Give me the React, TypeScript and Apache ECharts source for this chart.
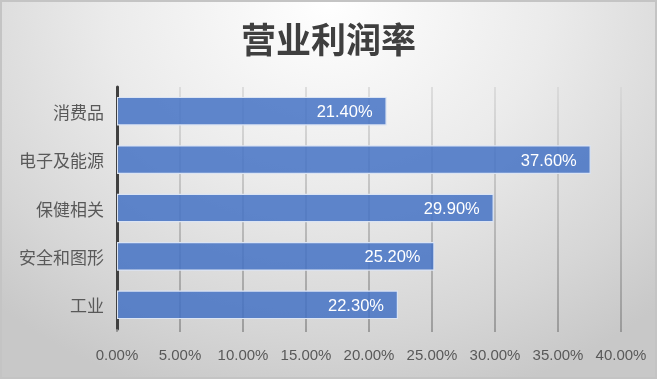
import React, { useEffect, useRef } from "react";
import * as echarts from "echarts";

const categories = ["消费品", "电子及能源", "保健相关", "安全和图形", "工业"];
const values = [21.4, 37.6, 29.9, 25.2, 22.3];
const titleText = "营业利润率";

export default function App() {
  const ref = useRef<HTMLDivElement>(null);
  useEffect(() => {
    if (!ref.current) return;
    const chart = echarts.init(ref.current, undefined, { renderer: "svg" });
    chart.setOption({
      animation: false,
      backgroundColor: "transparent",
      title: {
        text: titleText,
        left: "center",
        top: 15,
        textStyle: {
          fontSize: 35,
          fontWeight: "bold",
          color: "#3f3f3f",
          fontFamily: "Noto Sans CJK SC",
        },
      },
      grid: { left: 117, right: 36, top: 87, bottom: 50, containLabel: false },
      xAxis: {
        type: "value",
        min: 0,
        max: 40,
        interval: 5,
        axisLine: { show: false },
        axisTick: { show: true, length: 3, lineStyle: { color: "#8a8a8a", width: 1.5 } },
        axisLabel: {
          margin: 18,
          fontSize: 15,
          color: "#595959",
          fontFamily: "Liberation Sans, Arial, sans-serif",
          formatter: (v: number) => v.toFixed(2) + "%",
        },
        splitLine: {
          show: true,
          lineStyle: {
            width: 1.5,
            color: new echarts.graphic.LinearGradient(
              0, 87, 0, 329,
              [
                { offset: 0, color: "#d6d6d6" },
                { offset: 1, color: "#8c8c8c" },
              ],
              true
            ),
          },
        },
      },
      yAxis: {
        type: "category",
        data: categories,
        inverse: true,
        axisLine: { show: true, lineStyle: { color: "#404040", width: 3 } },
        axisTick: { show: false },
        axisLabel: {
          margin: 13,
          fontSize: 17,
          color: "#595959",
          fontFamily: "Noto Sans CJK SC",
        },
      },
      series: [
        {
          type: "bar",
          data: values,
          barWidth: "59%",
          itemStyle: {
            color: "rgba(68,114,196,0.85)",
            borderColor: "#dbe4f3",
            borderWidth: 1.2,
          },
          label: {
            show: true,
            position: "insideRight",
            distance: 14,
            color: "#ffffff",
            fontSize: 16.5,
            fontFamily: "Liberation Sans, Arial, sans-serif",
            formatter: (p: any) => Number(p.value).toFixed(2) + "%",
          },
        },
      ],
    });
    return () => chart.dispose();
  }, []);
  return (
    <div
      style={{
        position: "fixed",
        left: 0,
        top: 0,
        width: 657,
        height: 379,
        boxSizing: "border-box",
        border: "2px solid #c4c4c4",
        background:
          "radial-gradient(ellipse 75% 110% at 50% 0%, #ffffff 0%, #ebebeb 45%, #d6d6d6 80%, #c8c8c8 100%)",
      }}
    >
      <div ref={ref} style={{ position: "absolute", left: -2, top: -2, width: 657, height: 379 }} />
    </div>
  );
}
